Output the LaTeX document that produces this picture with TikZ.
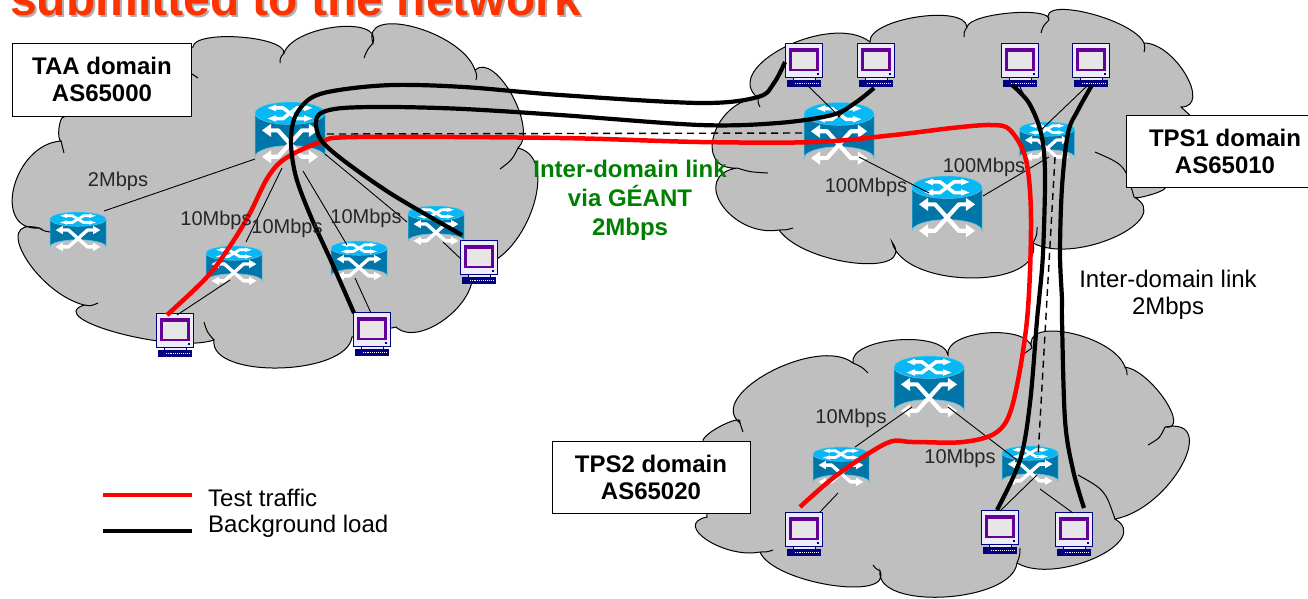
\documentclass[tikz,border=0pt]{standalone}
\usepackage{fontspec}
\setmainfont{Liberation Sans}
\usetikzlibrary{calc}
\definecolor{cloudgrey}{RGB}{191,191,191}
\definecolor{rbody}{RGB}{0,118,168}
\definecolor{rtop}{RGB}{8,184,245}
\definecolor{rrim}{RGB}{90,200,235}
\definecolor{cnavy}{RGB}{0,0,128}
\definecolor{cpurple}{RGB}{102,0,153}
\definecolor{cface}{RGB}{236,236,250}
\definecolor{cscreen}{RGB}{230,230,230}
\definecolor{titleorange}{RGB}{255,51,0}
\definecolor{titleshadow}{RGB}{175,175,175}
\definecolor{linkgreen}{RGB}{0,128,0}
\newcommand{\lobe}[3]{.. controls ($1.3333*#2+0.3333*#1-0.6667*#3$) and ($1.3333*#2+0.3333*#3-0.6667*#1$) .. #3 }
\newcommand{\rarrows}[1]{%
  \foreach \sx in {-1,1}{%
    \draw[white,line width=#1*0.06pt,line join=round] (\sx*-30,-7) -- (\sx*-17,-7) -- (\sx*17,33) -- (\sx*30,33);
    \fill[white] (\sx*-40,-7) -- (\sx*-27,-17) -- (\sx*-27,3) -- cycle;
    \fill[white] (\sx*40,33) -- (\sx*27,23) -- (\sx*27,43) -- cycle;
    \draw[white,line width=#1*0.05pt] (\sx*-24,-41) -- (\sx*-10,-41) -- (\sx*10,-25) -- (\sx*24,-25);
    \fill[white] (\sx*-32,-41) -- (\sx*-20,-46) -- (\sx*-20,-36) -- cycle;
    \fill[white] (\sx*32,-25) -- (\sx*20,-30) -- (\sx*20,-20) -- cycle;
  }}
\newcommand{\dorouter}[5]{%
  \node[devbox,minimum width=#4pt,minimum height=#5pt] (#1) at (#2,#3) {};
  \begin{scope}[shift={(#2,#3)},xscale=#4/100,yscale=#5/100]
    \fill[rbody,draw=rrim,line width=.5pt] (-50,-33) -- (-50,33) arc[start angle=180,end angle=360,x radius=50,y radius=17] -- (50,-33) -- cycle;
    \fill[rtop,draw=rrim,line width=.5pt] (0,-33) ellipse[x radius=50,y radius=17];
    \rarrows{#4}
  \end{scope}}
\newcommand{\docomputer}[3]{%
  \node[devbox,minimum width=37pt,minimum height=43pt] (#1) at (#2,#3) {};
  \begin{scope}[shift={(#2,#3)},xscale=.37,yscale=.43]
    \filldraw[fill=cface,draw=cnavy,line width=1pt] (-50,-50) rectangle (50,28);
    \fill[cpurple] (-40,-40) rectangle (40,15);
    \fill[cscreen] (-33,-31) rectangle (33,9);
    \fill[cnavy] (34,19) rectangle (40,24);
    \filldraw[fill=cface,draw=cnavy,line width=.7pt] (-30,28) rectangle (30,36);
    \fill[cnavy] (-45,36) rectangle (45,50);
    \draw[white,line width=1.4pt,dash pattern=on 1pt off .9pt] (-25,43) -- (38,43);
  \end{scope}}
\tikzset{
  devbox/.style={inner sep=0pt,outer sep=0pt},
  cloudfill/.style={fill=cloudgrey,draw=black,line width=1pt,line join=miter},
  cloudtail/.style={draw=black,line width=1pt},
  thinlink/.style={draw=black,line width=.9pt},
  dashlink/.style={draw=black,line width=1.4pt,dash pattern=on 7pt off 5pt},
  testline/.style={draw=red,line width=4.5pt,line join=round},
  loadline/.style={draw=black,line width=4.2pt,line join=round},
  domainbox/.style={draw=black,fill=white,line width=1pt,inner sep=0pt,align=center,font=\fontsize{24}{28}\selectfont\bfseries},
  speed/.style={inner sep=0pt,text=black!85,font=\fontsize{20}{24}\selectfont},
  plaintext/.style={inner sep=0pt,font=\fontsize{24}{27}\selectfont,align=center},
  greentext/.style={inner sep=0pt,text=linkgreen,align=center,font=\fontsize{24}{29}\selectfont\bfseries},
}
\begin{document}
\begin{tikzpicture}[x=1pt,y=-1pt]
\useasboundingbox (0,0) rectangle (1308,598);
\clip (0,0) rectangle (1308,598);
\fill[white] (0,0) rectangle (1308,598);

% title
\node[anchor=base west,inner sep=0pt,text=titleshadow,font=\fontsize{48}{50}\selectfont\bfseries] (titleb) at (12,17) {submitted to the network};
\node[anchor=base west,inner sep=0pt,text=titleorange,font=\fontsize{48}{50}\selectfont\bfseries] (title) at (10,15) {submitted to the network};

% clouds: TAA
\path[cloudfill] (193,47)
  \lobe{(193,47)}{(239,37)}{(284,53)}
  \lobe{(284,53)}{(336,27)}{(373,43)}
  \lobe{(373,43)}{(414,27)}{(475,70)}
  \lobe{(475,70)}{(512,95)}{(518,148)}
  \lobe{(518,148)}{(530,215)}{(470,265)}
  \lobe{(462,275)}{(447,318)}{(396,327)}
  -- (352,337)
  \lobe{(352,337)}{(279,368)}{(214,340)}
  \lobe{(214,340)}{(118,333)}{(84,305)}
  \lobe{(84,305)}{(25,257)}{(39,228)}
  \lobe{(39,228)}{(14,187)}{(61,141)}
  \lobe{(61,141)}{(59,128)}{(64,117)}
  -- (64,90) -- cycle;
\foreach \a/\c/\b in {{(192,74)}/{(195,76)}/{(198,78)},{(284,53)}/{(280,58)}/{(280,63)},{(373,43)}/{(367,50)}/{(364,58)},{(475,70)}/{(477,75)}/{(476,80)},{(518,148)}/{(512,160)}/{(500,169)},{(214,340)}/{(207,332)}/{(204,322)},{(84,305)}/{(91,306)}/{(98,303)},{(39,228)}/{(44,231)}/{(50,232)},{(61,141)}/{(62,147)}/{(64,153)}}
  \path[cloudtail] \a .. controls \c .. \b;

% clouds: TPS1
\path[cloudfill] (737,168)
  \lobe{(737,168)}{(714,135)}{(758,98)}
  \lobe{(758,98)}{(785,47)}{(870,42)}
  \lobe{(870,42)}{(917,17)}{(967,27)}
  \lobe{(967,27)}{(1010,13)}{(1049,20)}
  \lobe{(1049,20)}{(1088,13)}{(1144,43)}
  \lobe{(1144,43)}{(1186,75)}{(1181,107)}
  -- (1193,118) -- (1190,170) -- (1165,188)
  \lobe{(1165,188)}{(1150,195)}{(1134,197)}
  \lobe{(1134,197)}{(1115,237)}{(1033,243)}
  \lobe{(1033,243)}{(971,278)}{(892,242)}
  \lobe{(892,242)}{(855,263)}{(779,230)}
  \lobe{(779,230)}{(722,205)}{(737,168)}
  -- cycle;
\foreach \a/\c/\b in {{(737,168)}/{(750,172)}/{(768,173)},{(758,98)}/{(758,103)}/{(760,107)},{(967,27)}/{(964,32)}/{(964,37)},{(1049,20)}/{(1043,26)}/{(1041,33)},{(1144,43)}/{(1145,48)}/{(1144,52)},{(1134,197)}/{(1125,165)}/{(1095,152)},{(1033,243)}/{(1037,235)}/{(1037,227)},{(779,230)}/{(786,230)}/{(793,228)}}
  \path[cloudtail] \a .. controls \c .. \b;

% clouds: TPS2
\path[cloudfill] (703,440)
  \lobe{(703,440)}{(725,424)}{(740,423)}
  \lobe{(740,423)}{(770,372)}{(853,363)}
  \lobe{(853,363)}{(897,340)}{(948,355)}
  \lobe{(948,355)}{(987,333)}{(1032,348)}
  \lobe{(1032,348)}{(1070,333)}{(1125,367)}
  \lobe{(1125,367)}{(1165,400)}{(1165,427)}
  \lobe{(1165,427)}{(1182,465)}{(1115,519)}
  \lobe{(1115,519)}{(1095,558)}{(1017,563)}
  \lobe{(1017,563)}{(945,597)}{(880,571)}
  \lobe{(880,571)}{(830,585)}{(760,552)}
  \lobe{(760,552)}{(707,540)}{(707,517)}
  -- cycle;
\foreach \a/\c/\b in {{(740,423)}/{(742,428)}/{(743,432)},{(853,363)}/{(862,367)}/{(868,373)},{(1032,348)}/{(1028,350)}/{(1025,353)},{(1125,367)}/{(1127,371)}/{(1127,375)},{(1165,427)}/{(1160,438)}/{(1148,445)},{(1115,519)}/{(1105,490)}/{(1078,475)},{(1017,563)}/{(1020,555)}/{(1020,548)},{(880,571)}/{(875,568)}/{(873,565)},{(760,552)}/{(767,552)}/{(773,550)}}
  \path[cloudtail] \a .. controls \c .. \b;

% devices
\dorouter{rA}{290}{135}{70}{66}
\dorouter{rB}{78}{233}{56}{42}
\dorouter{rC}{234}{267}{56}{42}
\dorouter{rD}{359}{262}{56}{42}
\dorouter{rE}{436}{227}{56}{42}
\dorouter{rF}{839}{136}{70}{67}
\dorouter{rG}{947}{209}{70}{66}
\dorouter{rH}{1047}{143}{55}{42}
\dorouter{rI}{929}{389}{70}{66}
\dorouter{rJ}{841}{468}{56}{42}
\dorouter{rK}{1030}{467}{56}{42}
\docomputer{cA}{175}{335}
\docomputer{cB}{372}{334}
\docomputer{cC}{479}{262}
\docomputer{cD}{804}{65}
\docomputer{cE}{876}{65}
\docomputer{cF}{1020}{65}
\docomputer{cG}{1091}{65}
\docomputer{cH}{804}{534}
\docomputer{cI}{1000}{532}
\docomputer{cJ}{1074}{534}

% thin links
\draw[thinlink] ([shift={(-35,24)}]rA.center) -- ([shift={(26,-22)}]rB.center);
\draw[thinlink] ([shift={(-8,33)}]rA.center) -- ([shift={(12,-25)}]rC.center);
\draw[thinlink] ([shift={(13,36)}]rA.center) -- ([shift={(-12,-17)}]rD.center);
\draw[thinlink] ([shift={(35,19)}]rA.center) -- ([shift={(-29,-5)}]rE.center);
\draw[thinlink] ([shift={(-4,13)}]rC.center) -- ([shift={(2,-20)}]cA.center);
\draw[thinlink] ([shift={(-4,16)}]rD.center) -- ([shift={(-1,-21)}]cB.center);
\draw[thinlink] ([shift={(7,15)}]rE.center) -- ([shift={(-18,-3)}]cC.center);
\draw[thinlink] ([shift={(1,18)}]cD.center) -- ([shift={(1,-19)}]rF.center);
\draw[thinlink] ([shift={(-2,23)}]cE.center) -- ([shift={(-1,-19)}]rF.center);
\draw[thinlink] ([shift={(20,21)}]rF.center) -- ([shift={(-18,-16)}]rG.center);
\draw[thinlink] ([shift={(36,-13)}]rG.center) -- ([shift={(2,14)}]rH.center);
\draw[thinlink] ([shift={(0,22)}]cF.center) -- ([shift={(-6,-12)}]rH.center);
\draw[thinlink] ([shift={(-3,20)}]cG.center) -- ([shift={(-6,-13)}]rH.center);
\draw[thinlink] ([shift={(-17,18)}]rI.center) -- ([shift={(14,-21)}]rJ.center);
\draw[thinlink] ([shift={(19,18)}]rI.center) -- ([shift={(-13,-7)}]rK.center);
\draw[thinlink] ([shift={(-3,25)}]rJ.center) -- ([shift={(16,-22)}]cH.center);
\draw[thinlink] ([shift={(7,8)}]rK.center) -- ([shift={(0,-21)}]cI.center);
\draw[thinlink] ([shift={(10,22)}]rK.center) -- ([shift={(-1,-21)}]cJ.center);

% dashed links
\draw[dashlink] ([shift={(37,-1)}]rA.center) -- ([shift={(-34,-3)}]rF.center);
\draw[dashlink] ([shift={(8,14)}]rH.center) -- ([shift={(8,-10)}]rK.center);

% traffic curves
\coordinate (redA) at ([shift={(-8,-20)}]cA.center);
\coordinate (redH) at ([shift={(-4,-27)}]cH.center);
\draw[testline] plot[smooth,tension=.55] coordinates {(redH) (837,475) (887,443) (913,442) (963,442) (997,432) (1013,403) (1027,320) (1031,220) (1026,160) (1010,130) (991,125) (952,128) (894,135) (816,142) (700,142) (560,138) (357,137) (321,142) (286,158) (268,177) (250,213) (232,243) (207,277) (redA)};
\coordinate (loadD) at ([shift={(-19,-3)}]cD.center);
\coordinate (loadB) at ([shift={(-18,-21)}]cB.center);
\draw[loadline] plot[smooth,tension=.55] coordinates {(loadD) (774,83) (758,97) (700,103) (560,95) (464,87) (393,85) (339,90) (311,98) (295,117) (291,143) (296,177) (311,217) (332,263) (loadB)};
\coordinate (loadE) at ([shift={(-2,23)}]cE.center);
\coordinate (loadC) at ([shift={(-17,-27)}]cC.center);
\draw[loadline] plot[smooth,tension=.55] coordinates {(loadE) (855,103) (832,115) (778,123) (700,125) (560,115) (464,109) (393,107) (343,108) (321,113) (316,123) (321,140) (343,160) (393,195) (loadC)};
\coordinate (loadF) at ([shift={(-8,20)}]cF.center);
\coordinate (loadI) at ([shift={(-3,-22)}]cI.center);
\draw[loadline] plot[smooth,tension=.55] coordinates {(loadF) (1029,103) (1041,133) (1045,173) (1043,253) (1039,300) (1037,320) (1030,403) (1020,460) (loadI)};
\coordinate (loadG) at ([shift={(1,20)}]cG.center);
\coordinate (loadJ) at ([shift={(10,-26)}]cJ.center);
\draw[loadline] plot[smooth,tension=.55] coordinates {(loadG) (1078,110) (1068,133) (1062,187) (1060,253) (1062,300) (1062,320) (1065,420) (1073,470) (loadJ)};

% domain labels
\node[domainbox,minimum width=179pt,minimum height=73pt] (taa) at (102,79.5) {TAA domain\\[-1pt]AS65000};
\node[domainbox,minimum width=198pt,minimum height=72pt] (tpsa) at (1225,151) {TPS1 domain\\[-1pt]AS65010};
\node[domainbox,minimum width=198pt,minimum height=72pt] (tpsb) at (651,477) {TPS2 domain\\[-1pt]AS65020};

% speed labels
\node[speed] (s1) at (118,181) {2Mbps};
\node[speed] (s2) at (216,220) {10Mbps};
\node[speed] (s3) at (287,228) {10Mbps};
\node[speed] (s4) at (366,218) {10Mbps};
\node[speed] (s5) at (866,187) {100Mbps};
\node[speed] (s6) at (984,167) {100Mbps};
\node[speed] (s7) at (851,418) {10Mbps};
\node[speed] (s8) at (960,458) {10Mbps};

\node[greentext] (geant) at (630,200) {Inter-domain link\\via GÉANT\\2Mbps};
\node[plaintext] (inter) at (1168,295) {Inter-domain link\\2Mbps};

% legend
\coordinate (lgA) at (103,495);
\coordinate (lgB) at (192,495);
\coordinate (lgC) at (103,531);
\coordinate (lgD) at (192,531);
\draw[testline] (lgA) -- (lgB);
\draw[loadline] (lgC) -- (lgD);
\node[anchor=west,inner sep=0pt,font=\fontsize{24}{28}\selectfont] (lgT) at (208,498) {Test traffic};
\node[anchor=west,inner sep=0pt,font=\fontsize{24}{28}\selectfont] (lgL) at (208,526) {Background load};
\end{tikzpicture}
\end{document}
